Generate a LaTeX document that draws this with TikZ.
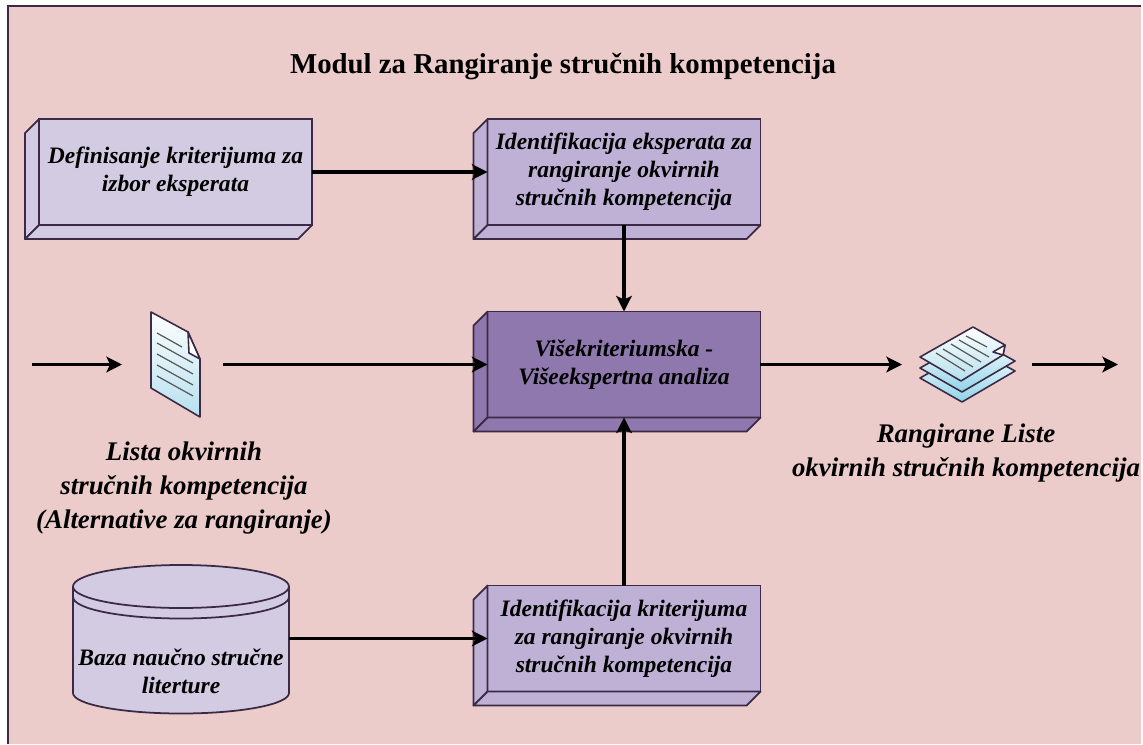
\documentclass[tikz,border=0pt]{standalone}
\usepackage{fontspec}
\setmainfont{Liberation Serif}
\usetikzlibrary{arrows.meta}
\definecolor{pozadina}{HTML}{ECCCCA}
\definecolor{linija}{HTML}{3B2A45}
\definecolor{svetla}{HTML}{D2CBE1}
\definecolor{srednja}{HTML}{BFB1D6}
\definecolor{tamna}{HTML}{8F78AE}
\definecolor{papir}{HTML}{B5E0EE}
\definecolor{papirdva}{HTML}{8FD3E8}
\begin{document}
\begin{tikzpicture}[x=.02cm,y=-.02cm,inner sep=0pt,outer sep=0pt,
>={Stealth[length=3.1mm,width=3.1mm,inset=.7mm]},
kutija/.style={draw=linija,rectangle,align=center,minimum width=5.46cm,minimum height=2.12cm,line width=1pt,font=\fontsize{13.4}{15.9}\selectfont\bfseries\itshape},
natpis/.style={align=center,font=\fontsize{15.3}{19.4}\selectfont\bfseries\itshape},
ikona/.style={rectangle,minimum height=2.12cm},
veza/.style={->,line width=2.1pt},
strana/.style={draw=linija,line width=1pt,line join=round},
list/.style={draw=linija,line width=.9pt,line join=round,top color=white,bottom color=papir},
red/.style={draw=black!65,line width=.7pt}]
\useasboundingbox (0,0) rectangle (1143,744);
\fill[pozadina] (8,6) rectangle (1141,744);
\draw[linija,line width=1pt] (8,744) -- (8,6) -- (1141,6);
\draw (563,67) node (naslov) {\fontsize{16.4}{19}\selectfont\bfseries Modul za Rangiranje stručnih kompetencija};
% kutije
\draw (175.5,172) node[kutija,fill=svetla] (definisanje) {Definisanje kriterijuma za\\izbor eksperata};
\draw (624,172) node[kutija,fill=srednja] (eksperti) {Identifikacija eksperata za\\rangiranje okvirnih\\stručnih kompetencija};
\draw (624,364.5) node[kutija,fill=tamna] (analiza) {Višekriteriumska -\\Višeekspertna analiza};
\draw (624,638.5) node[kutija,fill=srednja] (kriterijumi) {Identifikacija kriterijuma\\za rangiranje okvirnih\\stručnih kompetencija};
\foreach \ime/\boja in {definisanje/svetla,eksperti/srednja,analiza/tamna,kriterijumi/srednja} {
\draw[strana,fill=\boja] (\ime.north west) -- ++(-14,14) -- ++(0,106) -- ++(14,-14) -- cycle;
\draw[strana,fill=\boja] (\ime.south west) -- ++(-14,14) -- ++(273,0) -- ++(14,-14) -- cycle;
}
% baza
\draw[strana,fill=svetla] (73,586.5) -- (73,693) arc[start angle=180,end angle=0,x radius=108,y radius=20.5] -- (289,586.5) arc[start angle=0,end angle=-180,x radius=108,y radius=21.5] -- cycle;
\draw[strana] (73,586.5) arc[start angle=180,end angle=0,x radius=108,y radius=21.5];
\draw[strana] (73,597) arc[start angle=180,end angle=0,x radius=108,y radius=21.5];
\draw (181,638.5) node[ikona,minimum width=4.32cm] (baza) {};
\draw (181,671) node[align=center,font=\fontsize{13.4}{15.9}\selectfont\bfseries\itshape] (bazatekst) {Baza naučno stručne\\literture};
% dokument
\draw[list] (151,312) -- (188,332) -- (200,359) -- (200,417) -- (151,388) -- cycle;
\draw[draw=linija,line width=.9pt,fill=white,line join=round] (188,332) -- (200,359) -- (189,353) -- cycle;
\foreach \ya/\xb/\yb in {333/182/347,343/193/363,354/193/374,365/193/385,376/193/396}
\draw[red] (157,\ya) -- (\xb,\yb);
\draw (172.5,364.5) node[ikona,minimum width=2.02cm] (dokument) {};
% skup listova
\foreach \dy in {21,11}
\draw[list,bottom color=papirdva,shift={(0,\dy)}] (920,357) -- (973,327) -- (1015,350) -- (962,381) -- cycle;
\draw[list] (920,357) -- (973,327) -- (1005,345) -- (1003,355) -- (961,381) -- cycle;
\draw[draw=linija,line width=.9pt,fill=white,line join=round] (1005,345) -- (1003,355) -- (993,352) -- cycle;
\foreach \xa/\ya/\xb/\yb in {966/336/987/347,959/340/989/357,951/344/981/362,943/349/973/367,936/353/965/371}
\draw[red] (\xa,\ya) -- (\xb,\yb);
\draw (967,364.5) node[ikona,minimum width=2.6cm] (skup) {};
% natpisi
\draw (184,488) node[natpis] (lista) {Lista okvirnih\\stručnih kompetencija\\(Alternative za rangiranje)};
\draw (966,453) node[natpis] (liste) {Rangirane Liste\\okvirnih stručnih kompetencija};
\coordinate (ulaz) at (32,364.5);
\coordinate (izlaz) at (1118,364.5);
% veze
\draw[veza] (definisanje) -- (eksperti);
\draw[veza] (eksperti) -- (analiza);
\draw[veza] (ulaz) -- (dokument);
\draw[veza] (dokument) -- (analiza);
\draw[veza] (analiza) -- (skup);
\draw[veza] (skup) -- (izlaz);
\draw[veza] (kriterijumi) -- (analiza);
\draw[veza] (baza) -- (kriterijumi);
\end{tikzpicture}
\end{document}
